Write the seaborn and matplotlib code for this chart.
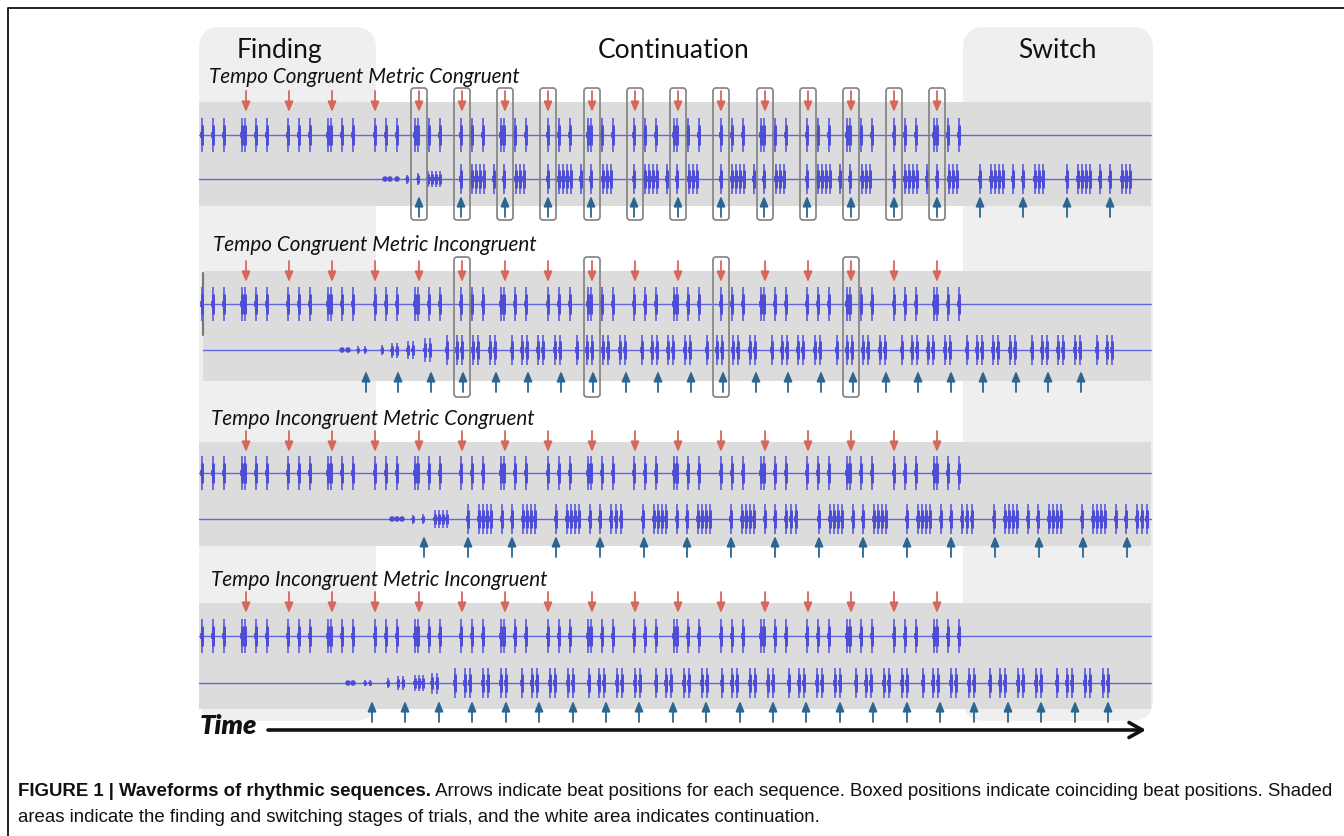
import numpy as np
import pandas as pd
import matplotlib.pyplot as plt
from matplotlib.patches import FancyBboxPatch, Rectangle
import seaborn as sns

# 0. Estilo general
sns.set_theme(style="white")
plt.rcParams["font.family"] = ["Lato", "DejaVu Sans"]

# 1. Datos (posiciones en el eje de tiempo, en px de la figura original)
stages = ["Finding", "Continuation", "Switch"]
panel_titles = [
    "Tempo Congruent Metric Congruent",
    "Tempo Congruent Metric Incongruent",
    "Tempo Incongruent Metric Congruent",
    "Tempo Incongruent Metric Incongruent",
]

# beats of the reference sequence (red, same in all panels)
red_beats = [246, 289, 332, 375, 419, 462, 505, 548, 592, 635, 678, 721, 765, 808, 851, 894, 937]

# beats of the second sequence (blue)
blue_beats_1 = [419, 461, 505, 548, 591, 634, 678, 721, 764, 807, 851, 894, 937, 980, 1023, 1067, 1110]
blue_beats_2 = [366, 398, 431, 463, 496, 528, 561, 593, 626, 658, 691, 723, 756, 788, 821, 853, 886, 918,
                951, 983, 1016, 1048, 1081]
blue_beats_3 = [424, 468, 512, 556, 600, 644, 687, 731, 775, 819, 863, 907, 951, 995, 1039, 1083, 1127]
blue_beats_4 = [372, 405, 439, 472, 506, 539, 573, 606, 639, 673, 706, 740, 773, 806, 840, 873, 907,
                940, 974, 1008, 1041, 1075, 1108]

# coinciding beats (boxed)
boxes_1 = [419, 462, 505, 548, 592, 635, 678, 721, 765, 808, 851, 894, 937]
boxes_2 = [462, 592, 721, 851]

# waveform of the reference sequence: cycle starts + onsets inside one cycle
top_starts = [202, 288, 375, 461, 548, 634, 721, 807, 894]
top_cycle = [0, 11, 22, 40, 43, 54, 65]

# second sequences
bot1_starts = [461, 548, 634, 721, 807, 894, 980, 1067]
bot1_cycle = [0, 11, 15, 19, 23, 33, 43, 55, 59, 63]
bot1_fade = [385, 390, 397, 407, 418, 428, 432, 436, 440]
bot1_fade_amp = [0.12, 0.12, 0.12, 0.3, 0.4, 0.55, 0.55, 0.55, 0.55]

bot2_starts = [447, 512, 577, 642, 707, 772, 837, 902, 967, 1032, 1097]
bot2_cycle = [0, 10, 15, 26, 31, 43, 48]
bot2_fade = [342, 348, 358, 365, 382, 392, 397, 408, 413, 425, 430]
bot2_fade_amp = [0.12, 0.12, 0.25, 0.25, 0.35, 0.5, 0.5, 0.6, 0.6, 0.8, 0.8]

bot3_starts = [468, 643, 819, 994]
bot3_cycle = [0, 11, 15, 19, 23, 34, 44, 55, 59, 63, 67, 88, 99, 103, 107, 111, 122, 132, 143, 148, 153]
bot3_fade = [392, 397, 402, 413, 423, 435, 439, 443, 447]
bot3_fade_amp = [0.12, 0.12, 0.12, 0.3, 0.35, 0.6, 0.6, 0.6, 0.6]

bot4_starts = [455, 522, 589, 656, 722, 789, 856, 923, 990, 1057]
bot4_cycle = [0, 10, 15, 28, 33, 46, 51]
bot4_fade = [348, 353, 365, 370, 388, 398, 403, 415, 419, 423, 432, 437]
bot4_fade_amp = [0.12, 0.12, 0.2, 0.2, 0.35, 0.45, 0.45, 0.55, 0.55, 0.55, 0.7, 0.7]

bot_end = [1151, 1112, 1151, 1151]

caption_bold = "FIGURE 1 | Waveforms of rhythmic sequences."
caption_rest = (" Arrows indicate beat positions for each sequence. Boxed positions indicate coinciding"
                " beat positions. Shaded")
caption_line2 = ("areas indicate the finding and switching stages of trials, and the white area indicates"
                 " continuation.")

# 2. Layout (px)
band_top = [103, 272, 443, 604]
band_bot = [207, 382, 547, 710]
band_left = [199, 203, 199, 199]
band_right = 1151
line_top = [136, 305, 474, 637]
line_bot = [180, 351, 520, 684]
title_y = [77, 245, 419, 580]
title_x = [209, 213, 211, 211]
red_y = [(92, 113), (262, 283), (432, 453), (593, 614)]
blue_y = [(218, 197), (393, 372), (558, 537), (723, 702)]
box_y = [(89, 221), (258, 398)]

WAVE = "#6464e2"
WAVE_DARK = "#4c4cd6"
RED = "#d8665c"
BLUE = "#2c6590"


def onsets(starts, cycle, end):
    xs = [s + c for s in starts for c in cycle]
    return [x for x in xs if x <= end]


def draw_wave(ax, xs, amps, y0, h, x0, x1):
    ax.plot([x0, x1], [y0, y0], color=WAVE, lw=1.0, zorder=3)
    xs = np.asarray(xs, dtype=float)
    amps = np.asarray(amps, dtype=float)
    big = amps >= 0.2
    ax.vlines(xs[big], y0 - h * amps[big], y0 + h * amps[big], colors=WAVE, lw=1.3, zorder=4)
    ax.vlines(xs[big], y0 - 0.6 * h * amps[big], y0 + 0.6 * h * amps[big], colors=WAVE_DARK, lw=2.1, zorder=4)
    ax.vlines(xs[big], y0 - 0.2 * h * amps[big], y0 + 0.2 * h * amps[big], colors=WAVE_DARK, lw=2.7, zorder=4)
    if (~big).any():
        dots = pd.DataFrame({"x": xs[~big], "y": np.full((~big).sum(), y0)})
        sns.scatterplot(data=dots, x="x", y="y", ax=ax, color=WAVE_DARK, s=16, marker="o",
                        edgecolor="none", zorder=4, legend=False)


def arrow(ax, x, y_from, y_to, color):
    ax.annotate("", xy=(x, y_to), xytext=(x, y_from), zorder=6,
                arrowprops=dict(arrowstyle="-|>,head_length=0.6,head_width=0.25", color=color,
                                lw=1.3, shrinkA=0, shrinkB=0, mutation_scale=10))


fig = plt.figure(figsize=(13.44, 8.37), dpi=100)
ax = fig.add_axes([0, 0, 1, 1])
ax.set_xlim(0, 1344)
ax.set_ylim(837, 0)
ax.axis("off")

# marco
ax.plot([8, 8, 1344], [837, 9, 9], color="#222222", lw=1.4, zorder=1)

# etapas sombreadas
for x0, w in [(199, 177), (963, 190)]:
    ax.add_patch(FancyBboxPatch((x0, 28), w, 694, boxstyle="round,pad=0,rounding_size=22",
                                fc="#efefef", ec="none", zorder=1))
for name, x in zip(stages, [279, 674, 1057]):
    ax.text(x, 50, name, ha="center", va="center", fontsize=19, color="#111111", zorder=7)

bottom_waves = [
    (onsets(bot1_starts, bot1_cycle, bot_end[0]), bot1_fade, bot1_fade_amp),
    (onsets(bot2_starts, bot2_cycle, bot_end[1]), bot2_fade, bot2_fade_amp),
    (onsets(bot3_starts, bot3_cycle, bot_end[2]), bot3_fade, bot3_fade_amp),
    (onsets(bot4_starts, bot4_cycle, bot_end[3]), bot4_fade, bot4_fade_amp),
]
blue_all = [blue_beats_1, blue_beats_2, blue_beats_3, blue_beats_4]
top_x = onsets(top_starts, top_cycle, 960)

for i in range(4):
    ax.add_patch(Rectangle((band_left[i], band_top[i]), band_right - band_left[i],
                           band_bot[i] - band_top[i], fc="#dcdcdc", ec="none", zorder=2))
    ax.text(title_x[i], title_y[i], panel_titles[i], ha="left", va="center", fontsize=14.9,
            style="italic", color="#111111", zorder=7)
    draw_wave(ax, top_x, np.ones(len(top_x)), line_top[i], 17, band_left[i], band_right)
    xs, fx, fa = bottom_waves[i]
    draw_wave(ax, list(fx) + xs, list(fa) + [1.0] * len(xs), line_bot[i], 15, band_left[i], band_right)
    for x in red_beats:
        arrow(ax, x, red_y[i][0], red_y[i][1], RED)
    for x in blue_all[i]:
        arrow(ax, x, blue_y[i][0], blue_y[i][1], BLUE)

ax.plot([203, 203], [274, 336], color="#777777", lw=1.5, zorder=3)

for bx, (y0, y1) in zip([boxes_1, boxes_2], box_y):
    for x in bx:
        ax.add_patch(FancyBboxPatch((x - 8, y0), 16, y1 - y0, boxstyle="round,pad=0,rounding_size=3",
                                    fc="none", ec="#808080", lw=1.2, zorder=8))

# eje de tiempo
ax.text(200, 726, "Time", ha="left", va="center", fontsize=19.5, style="italic", weight="heavy",
        color="#111111", zorder=7)
ax.annotate("", xy=(1146, 731), xytext=(268, 731), zorder=7,
            arrowprops=dict(arrowstyle="->,head_length=0.8,head_width=0.45", color="#111111",
                            lw=2.6, shrinkA=0, shrinkB=0, mutation_scale=12))

# leyenda de la figura
cap_font = ["Liberation Sans", "DejaVu Sans"]
cap_size = 13.4
t = ax.text(18, 792, caption_bold, ha="left", va="center", fontsize=cap_size, weight="bold",
            family=cap_font, color="#111111")
r = fig.canvas.get_renderer()
bb = t.get_window_extent(r)
x_end = ax.transData.inverted().transform((bb.x1, bb.y0))[0]
ax.text(x_end, 792, caption_rest, ha="left", va="center", fontsize=cap_size, family=cap_font, color="#111111")
ax.text(18, 818, caption_line2, ha="left", va="center", fontsize=cap_size, family=cap_font, color="#111111")

fig.savefig("out.png", dpi=100)
